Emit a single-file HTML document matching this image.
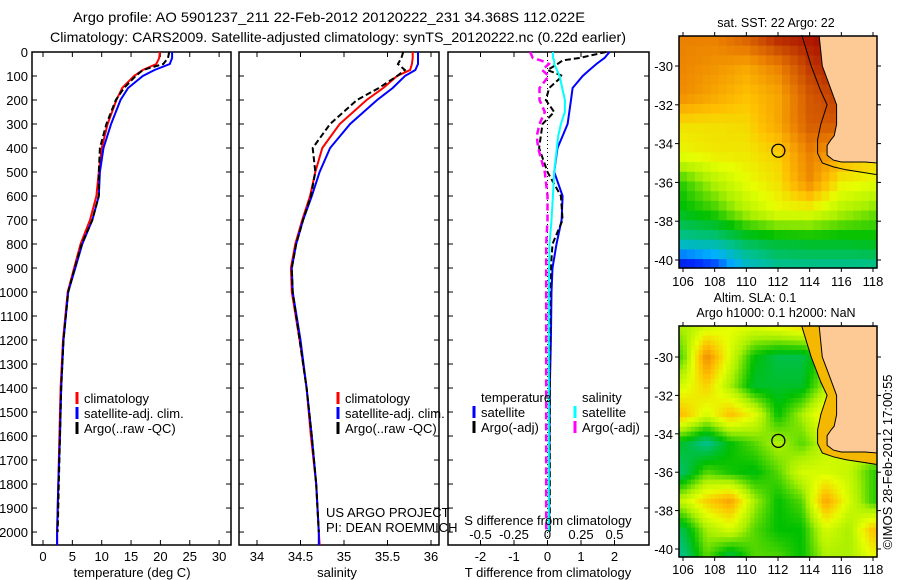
<!DOCTYPE html>
<html><head><meta charset="utf-8">
<style>
html,body{margin:0;padding:0;background:#fff;}
svg{display:block;font-family:"Liberation Sans",sans-serif;}
</style></head>
<body>
<svg id="fig" width="900" height="580" viewBox="0 0 900 580" xmlns="http://www.w3.org/2000/svg">
<rect width="900" height="580" fill="#fff"/>
<text x="329" y="22" font-size="14" text-anchor="middle" textLength="512" lengthAdjust="spacingAndGlyphs">Argo profile: AO 5901237_211 22-Feb-2012 20120222_231 34.368S 112.022E</text>
<text x="338" y="42" font-size="14" text-anchor="middle" textLength="576" lengthAdjust="spacingAndGlyphs">Climatology: CARS2009. Satellite-adjusted climatology: synTS_20120222.nc (0.22d earlier)</text>
<g id="p1"></g>
<g id="p2"></g>
<g id="p3"></g>
<g id="m1"></g>
<g id="m2"></g>
<text transform="translate(892,462) rotate(-90)" font-size="13" text-anchor="middle">©IMOS 28-Feb-2012 17:00:55</text>
</svg>
<script>
// ---------- profile data ----------
const depths   = [0,25,50,75,100,150,200,300,400,500,600,700,800,900,1000,1200,1400,1600,1800,2000,2054];
const tempClim = [19.9,19.8,19.3,17.0,15.5,13.5,12.5,11.0,10.0,9.5,9.1,8.0,6.4,5.3,4.2,3.4,3.0,2.8,2.6,2.4,2.4];
const tempSat  = [22.0,22.0,21.6,19.0,17.0,14.5,13.2,11.6,10.3,9.7,9.5,8.4,6.7,5.5,4.3,3.5,3.1,2.9,2.6,2.4,2.4];
const tempArgo = [21.5,21.3,20.5,17.0,15.8,13.8,12.4,10.8,9.7,9.5,9.5,8.4,6.6,5.4,4.3,3.5,3.1,2.9,2.7,2.5,2.5];
const salClim  = [35.79,35.79,35.78,35.76,35.61,35.45,35.26,34.95,34.75,34.67,34.61,34.52,34.44,34.39,34.40,34.49,34.57,34.62,34.68,34.71,34.72];
const salSat   = [35.85,35.85,35.85,35.82,35.70,35.56,35.38,35.07,34.84,34.72,34.63,34.53,34.45,34.40,34.41,34.50,34.57,34.63,34.68,34.71,34.71];
const salArgo  = [35.68,35.66,35.62,35.70,35.61,35.40,35.15,34.84,34.64,34.67,34.62,34.53,34.45,34.40,34.41,34.49,34.57,34.63,34.68,34.71,34.71];
const diffDepths = [0,25,35,50,75,100,150,200,250,300,350,400,500,600,700,800,900,1000,1200,1400,1600,1800,2000];
const tDiffSat   = [1.85,1.7,1.6,1.46,1.25,1.05,0.75,0.7,0.65,0.6,0.45,0.3,0.2,0.45,0.42,0.27,0.15,0.12,0.1,0.07,0.06,0.05,0.05];
const tDiffArgo  = [1.75,0.95,0.45,0.3,0.0,0.45,0.05,-0.05,0.2,-0.15,-0.2,-0.25,0.0,0.4,0.45,0.15,0.1,0.07,0.07,0.07,0.07,0.07,0.07];
const sDiffSat   = [0.04,0.04,0.05,0.05,0.07,0.09,0.11,0.13,0.13,0.1,0.08,0.07,0.05,0.04,0.03,0.015,0.012,0.01,0.01,0.01,0.01,0.01,0.01];
const sDiffArgo  = [-0.13,-0.11,-0.05,0.01,-0.04,0.01,-0.06,-0.06,-0.02,-0.06,-0.08,-0.07,-0.02,0.0,0.0,-0.01,-0.01,-0.01,-0.01,-0.01,-0.01,-0.01,-0.01];
const depthTicks = [0,100,200,300,400,500,600,700,800,900,1000,1100,1200,1300,1400,1500,1600,1700,1800,1900,2000];
const tempTicks = [0,5,10,15,20,25,30];
const salTicks  = [34,34.5,35,35.5,36];
const tDiffTicks = [-2,-1,0,1,2];
const sDiffTicks = [-0.5,-0.25,0,0.25,0.5];
const sDiffTickLabels = ['-0.5','-0.25','0','0.25','0.5'];
// ---------- map data ----------
const sstLats = [-28.5,-30,-31.5,-33,-34.5,-36,-37.5,-39,-40.5];
const sstLons = [106,108,110,112,114,116,118];
const sstGrid = [
 [0.80,0.80,0.86,0.95,0.97,1.0,1.0],
 [0.79,0.77,0.74,0.80,0.92,0.97,1.0],
 [0.78,0.74,0.70,0.74,0.87,0.92,1.0],
 [0.66,0.66,0.67,0.74,0.86,0.87,1.0],
 [0.63,0.65,0.65,0.68,0.80,0.74,0.70],
 [0.48,0.56,0.62,0.66,0.78,0.64,0.62],
 [0.44,0.48,0.56,0.62,0.62,0.56,0.52],
 [0.34,0.35,0.40,0.42,0.43,0.43,0.44],
 [0.08,0.14,0.28,0.34,0.34,0.34,0.34]];
const slaLats = [-28.5,-30,-31.5,-33,-34.5,-36,-37.5,-39,-40.5];
const slaLons = [106,107.5,109,110.5,112,113.5,115,116.5,118];
const slaGrid = [
 [0.55,0.60,0.62,0.60,0.62,0.65,0.62,0.70,0.70],
 [0.50,0.78,0.60,0.45,0.40,0.40,0.50,0.72,0.70],
 [0.60,0.68,0.55,0.42,0.42,0.42,0.55,0.62,0.65],
 [0.70,0.60,0.70,0.62,0.45,0.55,0.66,0.65,0.60],
 [0.42,0.35,0.45,0.50,0.56,0.50,0.58,0.60,0.60],
 [0.38,0.50,0.46,0.44,0.50,0.60,0.60,0.58,0.48],
 [0.58,0.68,0.74,0.55,0.45,0.50,0.74,0.60,0.48],
 [0.40,0.55,0.60,0.50,0.45,0.45,0.60,0.55,0.70],
 [0.35,0.50,0.38,0.50,0.50,0.45,0.55,0.55,0.62]];
const landLon = [114.6,114.8,115.25,115.7,115.7,115.55,115.35,115.1,115.1,115.5,116.0,117.5,118.25,118.25];
const landLat = [-28.4,-30,-31,-32,-33,-33.6,-33.8,-34.1,-34.6,-34.85,-34.95,-34.95,-35.0,-28.4];
const isoLon = [113.5,114.1,114.7,115.1,114.7,114.5,114.5,114.8,115.5,116.3,117.5,118.25];
const isoLat = [-28.4,-30,-31.3,-32,-33,-33.8,-34.5,-35,-35.2,-35.35,-35.5,-35.6];
const argoLon = 112.022, argoLat = -34.368;
const latTicks = [-30,-32,-34,-36,-38,-40];
const lonTicks = [106,108,110,112,114,116,118];

const NS='http://www.w3.org/2000/svg';
function mk(parent,tag,attrs){const e=document.createElementNS(NS,tag);for(const k in attrs)e.setAttribute(k,attrs[k]);parent.appendChild(e);return e;}
function txt(parent,x,y,s,size,anchor){const t=mk(parent,'text',{x:x,y:y,'font-size':size,'text-anchor':anchor||'middle'});t.textContent=s;return t;}

const Y0=52, Y1=545, DMAX=2054;
const yD = d => Y0 + (d/DMAX)*(Y1-Y0);
const xT = v => 43 + v*5.87;
const xS = v => 257 + (v-34)*87;
const xTD = v => 547.5 + v*33.5;
const xSD = v => 547.5 + v*134;

function frame(g,x0,x1,ticksL,ticksR){
  mk(g,'rect',{x:x0,y:Y0,width:x1-x0,height:Y1-Y0,fill:'none',stroke:'#000','stroke-width':1.5});
  depthTicks.forEach(d=>{
    const y=yD(d);
    if(ticksL) mk(g,'line',{x1:x0,y1:y,x2:x0+5,y2:y,stroke:'#000'});
    if(ticksR) mk(g,'line',{x1:x1-5,y1:y,x2:x1,y2:y,stroke:'#000'});
  });
}
function xticks(g,vals,fx,labels,ly){
  vals.forEach((v,i)=>{const x=fx(v);
    mk(g,'line',{x1:x,y1:Y0,x2:x,y2:Y0+5,stroke:'#000'});
    mk(g,'line',{x1:x,y1:Y1-5,x2:x,y2:Y1,stroke:'#000'});
    if(labels){const t=txt(g,x,ly,labels[i],13);
      
      }
  });
}
function line(g,xs,ys,fx,color,w,dash,name){
  const pts=xs.map((v,i)=>fx(v).toFixed(1)+','+yD(ys[i]).toFixed(1)).join(' ');
  const p=mk(g,'polyline',{points:pts,fill:'none',stroke:color,'stroke-width':w});
  if(dash)p.setAttribute('stroke-dasharray',dash);
  
  
}
function legend(g,x,y,color,label,dash){
  const l=mk(g,'line',{x1:x,y1:y-11,x2:x,y2:y+1,stroke:color,'stroke-width':3});
  
  
  const t=txt(g,x+7,y,label,13,'start');
  
  
}

// Panel 1
const p1=document.getElementById('p1');
frame(p1,32,231,true,true);
depthTicks.forEach(d=>{const t=txt(p1,28,yD(d)+5,String(d),13,'end');
  
  });
xticks(p1,tempTicks,xT,tempTicks.map(String),561);
line(p1,tempClim,depths,xT,'#f00',2,null,'temp-climatology-line');
line(p1,tempSat,depths,xT,'#00f',2,null,'temp-satellite-line');
line(p1,tempArgo.slice(0,20),depths.slice(0,20),xT,'#000',2,'6,3','temp-argo-line');
legend(p1,77,403,'#f00','climatology');
legend(p1,77,418,'#00f','satellite-adj. clim.');
legend(p1,77,433,'#000','Argo(..raw -QC)');
const a1=txt(p1,132,577,'temperature (deg C)',13);

// Panel 2
const p2=document.getElementById('p2');
frame(p2,239,439,true,true);
xticks(p2,salTicks,xS,['34','34.5','35','35.5','36'],561);
line(p2,salClim,depths,xS,'#f00',2,null,'sal-climatology-line');
line(p2,salSat,depths,xS,'#00f',2,null,'sal-satellite-line');
line(p2,salArgo.slice(0,20),depths.slice(0,20),xS,'#000',2,'6,3','sal-argo-line');
legend(p2,338,403,'#f00','climatology');
legend(p2,338,418,'#00f','satellite-adj. clim.');
legend(p2,338,433,'#000','Argo(..raw -QC)');
const a2=txt(p2,337,577,'salinity',13);
const u1=txt(p2,326,517,'US ARGO PROJECT',13,'start');
const u2=txt(p2,326,532,'PI: DEAN ROEMMICH',13,'start');

// Panel 3
const p3=document.getElementById('p3');
frame(p3,448,649,true,true);
xticks(p3,tDiffTicks,xTD,['-2','-1','0','1','2'],561);
mk(p3,'line',{x1:xTD(0),y1:Y0,x2:xTD(0),y2:Y1,stroke:'#000','stroke-dasharray':'1,3'});
line(p3,tDiffSat,diffDepths,xTD,'#00f',2,null,'t-diff-satellite-line');
line(p3,tDiffArgo,diffDepths,xTD,'#000',2,'6,3','t-diff-argo-line');
line(p3,sDiffSat,diffDepths,xSD,'#0ff',2,null,'s-diff-satellite-line');
line(p3,sDiffArgo,diffDepths,xSD,'#f0f',2.5,'7,4','s-diff-argo-line');
sDiffTicks.forEach((v,i)=>{const t=txt(p3,xSD(v),539,sDiffTickLabels[i],13);
  
  });
const sd=txt(p3,548,525,'S difference from climatology',13);
const td=txt(p3,548,577,'T difference from climatology',13);
const lt=txt(p3,481,402,'temperature',13,'start');
const ls=txt(p3,582,402,'salinity',13,'start');
legend(p3,474,417,'#00f','satellite');
legend(p3,474,432,'#000','Argo(-adj)');
legend(p3,575,417,'#0ff','satellite');
legend(p3,575,432,'#f0f','Argo(-adj)');

// ---------- maps ----------
const stops=[[0,[0,0,128]],[0.15,[0,40,255]],[0.25,[0,176,255]],[0.35,[0,192,144]],[0.45,[0,192,0]],[0.55,[170,240,0]],[0.62,[230,255,0]],[0.7,[255,192,0]],[0.8,[235,128,0]],[0.9,[200,70,0]],[1,[160,0,0]]];
function cmap(v){v=Math.max(0,Math.min(1,v));for(let i=1;i<stops.length;i++){if(v<=stops[i][0]){const a=stops[i-1],b=stops[i],f=(v-a[0])/(b[0]-a[0]);return 'rgb('+a[1].map((c,k)=>Math.round(c+(b[1][k]-c)*f)).join(',')+')';}}return 'rgb(160,0,0)';}
function interp(grid,lats,lons,lat,lon){
  let r=(lats[0]-lat)/(lats[0]-lats[1]), c=(lon-lons[0])/(lons[1]-lons[0]);
  r=Math.max(0,Math.min(lats.length-1.001,r)); c=Math.max(0,Math.min(lons.length-1.001,c));
  const r0=Math.floor(r),c0=Math.floor(c),fr=r-r0,fc=c-c0;
  const g=(i,j)=>grid[i][j];
  return g(r0,c0)*(1-fr)*(1-fc)+g(r0,c0+1)*(1-fr)*fc+g(r0+1,c0)*fr*(1-fc)+g(r0+1,c0+1)*fr*fc;
}
function drawMap(id,top,bot,lat30y,lat40y,grid,lats,lons,step,shelf,titleLines,titleYs,lonLabelY){
  const g=document.getElementById(id);
  const X0=679,X1=877;
  const xL=lon=>683+(lon-106)*(873-683)/12;
  const yL=lat=>lat30y+(-30-lat)*(lat40y-lat30y)/10;
  const latTop=-30+(lat30y-top)/((lat40y-lat30y)/10);
  const latBot=-30-(bot-lat30y)/((lat40y-lat30y)/10);
  const cg=mk(g,'g',{});
  
  
  for(let lat=latTop;lat>latBot;lat-=step){
    for(let lon=105.75;lon<118.25;lon+=step){
      const v=interp(grid,lats,lons,lat-step/2,lon+step/2);
      const x=Math.max(X0,xL(lon)), x2=Math.min(X1,xL(lon+step)), y=Math.max(top,yL(lat)), y2=Math.min(bot,yL(lat-step));
      if(x2>x&&y2>y) mk(cg,'rect',{x:x.toFixed(1),y:y.toFixed(1),width:(x2-x+0.6).toFixed(1),height:(y2-y+0.6).toFixed(1),fill:cmap(v)});
    }
  }
  const isoPts=isoLon.map((l,i)=>xL(l).toFixed(1)+','+yL(isoLat[i]).toFixed(1));
  if(shelf){
    const sp=mk(g,'polygon',{points:isoPts.join(' ')+' '+X1+','+top,fill:'#f5b800'});
    
    
  }
  const land=mk(g,'polygon',{points:landLon.map((l,i)=>Math.min(X1,xL(l)).toFixed(1)+','+Math.max(top,yL(landLat[i])).toFixed(1)).join(' '),fill:'#fdca96',stroke:'#000','stroke-width':1});
  
  
  const iso=mk(g,'polyline',{points:isoPts.join(' '),fill:'none',stroke:'#000','stroke-width':1});
  
  
  mk(g,'rect',{x:X0,y:top,width:X1-X0,height:bot-top,fill:'none',stroke:'#000','stroke-width':1.5});
  const c=mk(g,'circle',{cx:xL(argoLon),cy:yL(argoLat),r:6.5,fill:'none',stroke:'#000','stroke-width':1.3});
  
  
  latTicks.forEach(l=>{const y=yL(l);
    mk(g,'line',{x1:X0-4,y1:y,x2:X0,y2:y,stroke:'#000'});
    mk(g,'line',{x1:X1,y1:y,x2:X1+4,y2:y,stroke:'#000'});
    const t=txt(g,X0-6,y+5,String(l),13,'end');
    
    });
  lonTicks.forEach(l=>{const x=xL(l);
    mk(g,'line',{x1:x,y1:top-4,x2:x,y2:top,stroke:'#000'});
    mk(g,'line',{x1:x,y1:bot,x2:x,y2:bot+4,stroke:'#000'});
    const t=txt(g,x,lonLabelY,String(l),13);
    
    });
  titleLines.forEach((s,i)=>{const t=txt(g,titleYs[i][0],titleYs[i][1],s,12.5);
    
    });
}
drawMap('m1',36,268,66,260,sstGrid,sstLats,sstLons,0.5,false,['sat. SST: 22 Argo: 22'],[[776,27]],286);
drawMap('m2',326,557,357,549,slaGrid,slaLats,slaLons,0.25,true,['Altim. SLA: 0.1','Argo h1000: 0.1 h2000: NaN'],[[755,302],[776,317]],574);
</script>
</body></html>
